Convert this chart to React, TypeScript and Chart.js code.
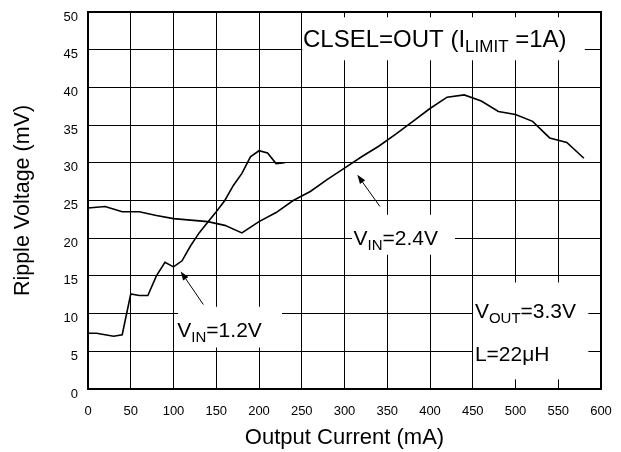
import React, { useEffect, useRef } from 'react';
import { Chart, registerables } from 'chart.js';

Chart.register(...registerables);

// ---- Data ----
const currentVin12 = [0, 10, 20, 30, 40, 50, 60, 70, 80, 90, 100, 110, 120, 130, 140, 150, 160, 170, 180, 190, 200, 210, 220, 230];
const rippleVin12 = [7.4, 7.4, 7.2, 7.0, 7.2, 12.6, 12.4, 12.4, 15.0, 16.8, 16.2, 17.0, 19.0, 20.7, 22.1, 23.5, 25.0, 27.0, 28.6, 30.8, 31.6, 31.3, 29.9, 30.0];

const currentVin24 = [0, 20, 40, 60, 80, 100, 120, 140, 160, 180, 200, 220, 240, 260, 280, 300, 320, 340, 360, 380, 400, 420, 440, 460, 480, 500, 520, 540, 560, 580];
const rippleVin24 = [24.0, 24.2, 23.5, 23.5, 23.0, 22.6, 22.4, 22.2, 21.7, 20.7, 22.2, 23.4, 25.0, 26.2, 27.8, 29.3, 30.8, 32.2, 33.8, 35.5, 37.2, 38.7, 39.0, 38.2, 36.8, 36.4, 35.5, 33.3, 32.7, 30.6];

const xTitle = 'Output Current (mA)';
const yTitle = 'Ripple Voltage (mV)';
const xMin = 0, xMax = 600, xStep = 50;
const yMin = 0, yMax = 50, yStep = 5;

// Annotation texts (segments: [text, isSubscript])
const labelClsel: [string, boolean][] = [['CLSEL=OUT (I', false], ['LIMIT', true], [' =1A)', false]];
const labelVin24: [string, boolean][] = [['V', false], ['IN', true], ['=2.4V', false]];
const labelVin12: [string, boolean][] = [['V', false], ['IN', true], ['=1.2V', false]];
const labelVout: [string, boolean][] = [['V', false], ['OUT', true], ['=3.3V', false]];
const labelL: [string, boolean][] = [['L=22μH', false]];

// Annotation placement in data units
const textBoxes = [
  { x0: 250.5, x1: 581, y0: 43.6, y1: 49.3, tx: 251.5, ty: 45.3, size: 24, subSize: 17, label: labelClsel },
  { x0: 308.8, x1: 429.2, y0: 17.8, y1: 23.1, tx: 310.5, ty: 19.1, size: 21, subSize: 15, label: labelVin24 },
  { x0: 105.3, x1: 226.9, y0: 5.5, y1: 10.9, tx: 104.5, ty: 6.9, size: 21, subSize: 15, label: labelVin12 },
  { x0: 450.3, x1: 585, y0: 1.3, y1: 14.1, tx: 452.5, ty: 9.4, size: 21, subSize: 15, label: labelVout },
  { x0: 450.3, x1: 585, y0: 1.3, y1: 14.1, tx: 452.5, ty: 3.7, size: 21, subSize: 15, label: labelL },
];
const arrows = [
  { fromX: 341.5, fromY: 24.2, toX: 315, toY: 28.4 },
  { fromX: 134.9, fromY: 11.2, toX: 108.4, toY: 15.6 },
];

const FONT = '"Liberation Sans", Arial, Helvetica, sans-serif';

const annotationPlugin = {
  id: 'annotations',
  beforeDatasetsDraw(chart: any) {
    const { ctx, chartArea } = chart;
    const xs = chart.scales.x;
    const ys = chart.scales.y;
    ctx.save();
    // white backgrounds hiding the grid
    ctx.fillStyle = '#ffffff';
    for (const b of textBoxes) {
      const l = xs.getPixelForValue(b.x0);
      const r = xs.getPixelForValue(b.x1);
      const t = ys.getPixelForValue(b.y1);
      const bt = ys.getPixelForValue(b.y0);
      ctx.fillRect(l, t, r - l, bt - t);
    }
    // frame
    ctx.strokeStyle = '#000';
    ctx.lineWidth = 2;
    ctx.strokeRect(chartArea.left, chartArea.top, chartArea.right - chartArea.left, chartArea.bottom - chartArea.top);
    // texts
    ctx.fillStyle = '#000';
    ctx.textBaseline = 'alphabetic';
    ctx.textAlign = 'left';
    for (const b of textBoxes) {
      let px = xs.getPixelForValue(b.tx);
      const py = ys.getPixelForValue(b.ty);
      for (const [t, sub] of b.label) {
        ctx.font = sub ? `${b.subSize}px ${FONT}` : `${b.size}px ${FONT}`;
        ctx.fillText(t, px, sub ? py + 5 : py);
        px += ctx.measureText(t).width;
      }
    }
    // arrows
    ctx.lineWidth = 1;
    for (const a of arrows) {
      const x1 = xs.getPixelForValue(a.fromX);
      const y1 = ys.getPixelForValue(a.fromY);
      const x2 = xs.getPixelForValue(a.toX);
      const y2 = ys.getPixelForValue(a.toY);
      const ang = Math.atan2(y2 - y1, x2 - x1);
      const hl = 9, hw = 3.2;
      const bx = x2 - hl * Math.cos(ang);
      const by = y2 - hl * Math.sin(ang);
      ctx.beginPath();
      ctx.moveTo(x1, y1);
      ctx.lineTo(bx, by);
      ctx.stroke();
      ctx.beginPath();
      ctx.moveTo(x2, y2);
      ctx.lineTo(bx + hw * Math.sin(ang), by - hw * Math.cos(ang));
      ctx.lineTo(bx - hw * Math.sin(ang), by + hw * Math.cos(ang));
      ctx.closePath();
      ctx.fill();
    }
    ctx.restore();
  },
};

export default function App() {
  const canvasRef = useRef<HTMLCanvasElement | null>(null);

  useEffect(() => {
    const canvas = canvasRef.current;
    if (!canvas) return;
    const chart = new Chart(canvas, {
      type: 'line',
      data: {
        datasets: [
          {
            label: 'VIN=1.2V',
            data: currentVin12.map((c, i) => ({ x: c, y: rippleVin12[i] })),
            borderColor: '#000',
            borderWidth: 1.6,
            pointRadius: 0,
            tension: 0,
            fill: false,
          },
          {
            label: 'VIN=2.4V',
            data: currentVin24.map((c, i) => ({ x: c, y: rippleVin24[i] })),
            borderColor: '#000',
            borderWidth: 1.6,
            pointRadius: 0,
            tension: 0,
            fill: false,
          },
        ],
      },
      options: {
        animation: false,
        responsive: false,
        devicePixelRatio: 1,
        layout: { padding: { left: 0, top: 12, right: 20, bottom: 0 } },
        plugins: {
          legend: { display: false },
          tooltip: { enabled: false },
        },
        scales: {
          x: {
            type: 'linear',
            min: xMin,
            max: xMax,
            ticks: {
              stepSize: xStep,
              color: '#000',
              padding: 15,
              font: { family: FONT, size: 13 },
              maxRotation: 0,
            },
            grid: { color: '#000', lineWidth: 1, drawTicks: false },
            border: { display: true, color: '#000', width: 2 },
            title: {
              display: true,
              text: xTitle,
              color: '#000',
              font: { family: FONT, size: 22 },
              padding: { top: 0, bottom: 1 },
            },
            afterFit: (scale: any) => {
              scale.height = 63;
              scale.paddingLeft = 0;
              scale.paddingRight = 0;
              scale.paddingTop = 0;
              scale.paddingBottom = 0;
            },
          },
          y: {
            type: 'linear',
            min: yMin,
            max: yMax,
            ticks: {
              stepSize: yStep,
              color: '#000',
              padding: 10,
              labelOffset: 5,
              font: { family: FONT, size: 13 },
            },
            grid: { color: '#000', lineWidth: 1, drawTicks: false },
            border: { display: true, color: '#000', width: 2 },
            title: {
              display: true,
              text: yTitle,
              color: '#000',
              font: { family: FONT, size: 21.5 },
              padding: { top: 10, bottom: 0 },
            },
            afterFit: (scale: any) => {
              scale.width = 88;
              scale.paddingLeft = 0;
              scale.paddingRight = 0;
              scale.paddingTop = 0;
              scale.paddingBottom = 0;
            },
          },
        },
      },
      plugins: [annotationPlugin],
    });
    return () => chart.destroy();
  }, []);

  return (
    <div style={{ position: 'absolute', left: 0, top: 0, width: 621, height: 452, background: '#fff' }}>
      <canvas ref={canvasRef} width={621} height={452} style={{ width: 621, height: 452, display: 'block' }} />
    </div>
  );
}
